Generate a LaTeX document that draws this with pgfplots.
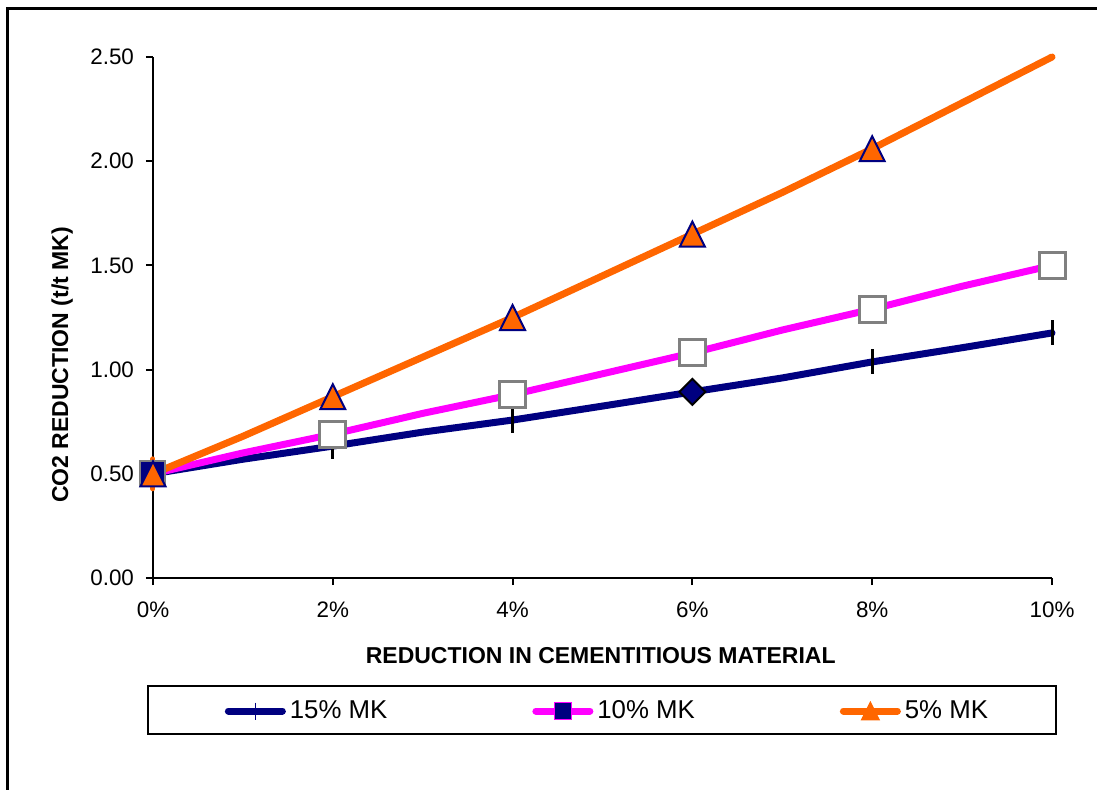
\documentclass[border=0pt]{standalone}
\usepackage{fontspec}
\setmainfont{Liberation Sans}
\usepackage{pgfplots}
\pgfplotsset{compat=1.18}

\definecolor{mknavy}{RGB}{0,0,128}
\definecolor{mkmagenta}{RGB}{255,0,255}
\definecolor{mkorange}{RGB}{255,102,0}
\definecolor{mkgray}{RGB}{128,128,128}

% isosceles triangle as wide as it is tall, centred on the point
\pgfdeclareplotmark{xtri}{%
  \pgfpathmoveto{\pgfqpoint{-\pgfplotmarksize}{-\pgfplotmarksize}}%
  \pgfpathlineto{\pgfqpoint{\pgfplotmarksize}{-\pgfplotmarksize}}%
  \pgfpathlineto{\pgfqpoint{0pt}{\pgfplotmarksize}}%
  \pgfpathclose\pgfusepathqfillstroke}
% square diamond
\pgfdeclareplotmark{xdiamond}{%
  \pgfpathmoveto{\pgfqpoint{0pt}{\pgfplotmarksize}}%
  \pgfpathlineto{\pgfqpoint{\pgfplotmarksize}{0pt}}%
  \pgfpathlineto{\pgfqpoint{0pt}{-\pgfplotmarksize}}%
  \pgfpathlineto{\pgfqpoint{-\pgfplotmarksize}{0pt}}%
  \pgfpathclose\pgfusepathqfillstroke}

\pgfplotstableread{
x y
0 0.500
1 0.570
2 0.633
3 0.700
4 0.758
5 0.825
6 0.893
7 0.960
8 1.037
9 1.105
10 1.176
}\mkfifteen

\pgfplotstableread{
x y
0 0.50
1 0.60
2 0.69
3 0.79
4 0.88
5 0.98
6 1.08
7 1.19
8 1.29
9 1.40
10 1.50
}\mkten

\pgfplotstableread{
x y
0 0.50
1 0.68
2 0.87
3 1.06
4 1.25
5 1.45
6 1.65
7 1.85
8 2.06
9 2.28
10 2.50
}\mkfive

\begin{document}
\begin{tikzpicture}
\useasboundingbox (-76.5pt,-105.5pt) rectangle (472pt,289pt);
\begin{axis}[
  at={(0pt,0pt)}, anchor=south west,
  scale only axis, width=449.5pt, height=260.5pt,
  xmin=0, xmax=10, ymin=0, ymax=2.5,
  axis lines=left,
  axis line style={-, line width=1pt, black},
  clip=false,
  xtick={0,2,...,10},
  xticklabels={0\%,2\%,4\%,6\%,8\%,10\%},
  ytick={0,0.5,...,2.5},
  /pgf/number format/assume math mode=true,
  yticklabel style={/pgf/number format/fixed,
    /pgf/number format/fixed zerofill,
    /pgf/number format/precision=2, xshift=-2.5pt},
  xticklabel style={yshift=-5pt},
  tick align=outside,
  major tick length=3.5pt,
  tick style={black, line width=1pt},
  ticklabel style={font=\fontsize{11.2}{13}\selectfont},
  xlabel={REDUCTION IN CEMENTITIOUS MATERIAL},
  ylabel={CO2 REDUCTION (t/t MK)},
  label style={font=\bfseries\fontsize{11.5}{13}\selectfont},
  xlabel style={at={(axis description cs:0.498,-0.148)}, anchor=center},
  ylabel style={at={(axis description cs:-0.101,0.409)}, anchor=center},
  legend columns=3,
  legend cell align=left,
  legend style={at={(axis description cs:0.0795,-0.2554)}, anchor=west,
    draw=none, fill=none, inner sep=0pt,
    font=\fontsize{12.9}{14}\selectfont,
    /tikz/every even column/.append style={column sep=70.5pt}},
  legend image code/.code={%
    \draw[mark repeat=2,mark phase=2,#1]
      plot coordinates {(0pt,0pt) (13.5pt,0pt) (27pt,0pt)};},
]

% series lines
\addplot[mknavy, line width=3.5pt, line cap=round, line join=round, forget plot]
  table[x=x, y=y] {\mkfifteen};
\addplot[mkmagenta, line width=3.5pt, line cap=round, line join=round, forget plot]
  table[x=x, y=y] {\mkten};
\addplot[mkorange, line width=3.5pt, line cap=round, line join=round, forget plot]
  table[x=x, y=y] {\mkfive};

% markers
\addplot[only marks, mark=|, mark size=7.5pt,
  mark options={mkorange, line width=2.5pt, line cap=round}, forget plot]
  coordinates {(0,0.50)};
\addplot[only marks, mark=|, mark size=6.25pt,
  mark options={black, line width=1.5pt}, forget plot]
  coordinates {(2,0.633) (4,0.758) (8,1.037) (10,1.176)};
\addplot[only marks, mark=xdiamond, mark size=6.5pt,
  mark options={draw=black, fill=mknavy, line width=1pt}, forget plot]
  coordinates {(6,0.893)};
\addplot[only marks, mark=square*, mark size=6.25pt,
  mark options={draw=mkgray, fill=mknavy, line width=1pt}, forget plot]
  coordinates {(0,0.50)};
\addplot[only marks, mark=square*, mark size=6.5pt,
  mark options={draw=mkgray, fill=white, line width=1.5pt}, forget plot]
  coordinates {(2,0.69) (4,0.88) (6,1.08) (8,1.29) (10,1.50)};
\addplot[only marks, mark=xtri, mark size=6.25pt,
  mark options={draw=mknavy, fill=mkorange, line width=1pt}, forget plot]
  coordinates {(0,0.50) (2,0.87) (4,1.25) (6,1.65) (8,2.06)};

% legend entries
\addlegendimage{mknavy, line width=3.5pt, line cap=round, mark=|, mark size=4.25pt,
  mark options={mknavy, line width=0.7pt, line cap=butt}}
\addlegendentry{15\% MK}
\addlegendimage{mkmagenta, line width=3.5pt, line cap=round, mark=square*, mark size=4.25pt,
  mark options={draw=mkmagenta, fill=mknavy, line width=0.8pt}}
\addlegendentry{10\% MK}
\addlegendimage{mkorange, line width=3.5pt, line cap=round, mark=xtri, mark size=4.25pt,
  mark options={draw=mkorange, fill=mkorange, line width=0.8pt}}
\addlegendentry{5\% MK}
\end{axis}

% legend frame and chart frame
\draw[line width=1.25pt] (-2.5pt,-54pt) rectangle (451.5pt,-78pt);
\draw[line width=1.5pt] (-72.5pt,-120pt) -- (-72.5pt,285pt) -- (500pt,285pt);
\end{tikzpicture}
\end{document}
